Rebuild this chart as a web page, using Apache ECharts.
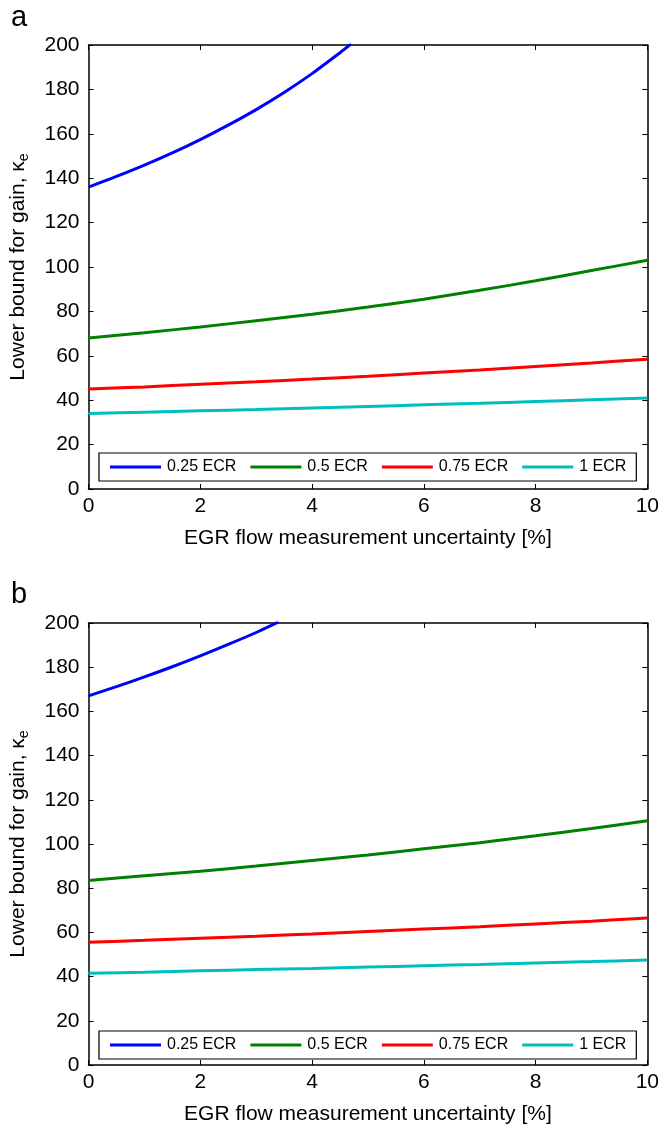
<!DOCTYPE html>
<html>
<head>
<meta charset="utf-8">
<script src="https://cdn.jsdelivr.net/npm/echarts@6/dist/echarts.min.js"></script>
<style>
  html, body { margin: 0; padding: 0; background: #fff; }
  #main { width: 662px; height: 1126px; }
</style>
</head>
<body>
<div id="main"></div>
<script>
// 数据：x 为 EGR 测量不确定度 [%]
var xFull = [0, 1, 2, 3, 4, 5, 6, 7, 8, 9, 10];

// panel a
var xBlueA = [0, 0.5, 1, 1.5, 2, 2.5, 3, 3.5, 4, 4.5, 4.7];
var blueA  = [136, 140.8, 145.9, 151.4, 157.4, 163.9, 170.9, 178.6, 187.1, 196.5, 200.5];
var greenA = [68, 70.4, 73, 75.8, 78.7, 82, 85.5, 89.5, 93.8, 98.4, 103];
var redA   = [45, 46, 47.2, 48.3, 49.5, 50.8, 52.2, 53.6, 55.2, 56.8, 58.5];
var cyanA  = [34, 34.6, 35.2, 35.8, 36.5, 37.2, 37.9, 38.6, 39.4, 40.2, 41];

// panel b
var xBlueB = [0, 0.5, 1, 1.5, 2, 2.5, 3, 3.4];
var blueB  = [167, 171.2, 175.6, 180.2, 185.1, 190.3, 195.7, 200.5];
var greenB = [83.5, 85.6, 87.7, 90, 92.5, 95, 97.8, 100.6, 103.7, 107, 110.5];
var redB   = [55.5, 56.4, 57.4, 58.3, 59.3, 60.4, 61.5, 62.6, 63.8, 65.1, 66.5];
var cyanB  = [41.5, 42, 42.6, 43.2, 43.7, 44.3, 44.9, 45.5, 46.2, 46.8, 47.5];

var names = ['0.25 ECR', '0.5 ECR', '0.75 ECR', '1 ECR'];
var colors = ['#0000ff', '#008000', '#ff0000', '#00bfbf'];

var font = 'Liberation Sans, Arial, sans-serif';

function pairs(xs, ys) {
    return xs.map(function (x, i) { return [x, ys[i]]; });
}

var myChart = echarts.init(document.getElementById('main'));

var grids = [
    { left: 87, right: 12, top: 45, height: 444 },
    { left: 87, right: 12, top: 623, height: 444 }
];

var xAxes = [], yAxes = [], series = [];
[0, 1].forEach(function (g) {
    // 下/上 x 轴
    xAxes.push({
        gridIndex: g, type: 'value', min: 0, max: 10, interval: 2,
        name: 'EGR flow measurement uncertainty [%]',
        nameLocation: 'middle', nameGap: 39,
        nameTextStyle: { fontFamily: font, fontSize: 21, color: '#000' },
        axisLine: { lineStyle: { color: '#000', width: 1.5 } },
        axisTick: { inside: true, length: 5, lineStyle: { color: '#000' } },
        axisLabel: { fontFamily: font, fontSize: 21, color: '#000', margin: 7 },
        splitLine: { show: false }
    });
    xAxes.push({
        gridIndex: g, type: 'value', min: 0, max: 10, interval: 2, position: 'top',
        axisLine: { onZero: false, lineStyle: { color: '#000', width: 1.5 } },
        axisTick: { inside: true, length: 5, lineStyle: { color: '#000' } },
        axisLabel: { show: false },
        splitLine: { show: false }
    });
    // 左/右 y 轴
    yAxes.push({
        gridIndex: g, type: 'value', min: 0, max: 200, interval: 20,
        name: 'Lower bound for gain, κ{sub|e}',
        nameLocation: 'middle', nameGap: 57, nameRotate: 90,
        nameTextStyle: {
            fontFamily: font, fontSize: 21, color: '#000',
            rich: { sub: { fontFamily: font, fontSize: 14, color: '#000', verticalAlign: 'bottom', padding: [12, 0, 0, 0] } }
        },
        axisLine: { lineStyle: { color: '#000', width: 1.5 } },
        axisTick: { inside: true, length: 5, lineStyle: { color: '#000' } },
        axisLabel: { fontFamily: font, fontSize: 21, color: '#000', margin: 9 },
        splitLine: { show: false }
    });
    yAxes.push({
        gridIndex: g, type: 'value', min: 0, max: 200, interval: 20, position: 'right',
        axisLine: { onZero: false, lineStyle: { color: '#000', width: 1.5 } },
        axisTick: { inside: true, length: 5, lineStyle: { color: '#000' } },
        axisLabel: { show: false },
        splitLine: { show: false }
    });
});

var dataSets = [
    [pairs(xBlueA, blueA), pairs(xFull, greenA), pairs(xFull, redA), pairs(xFull, cyanA)],
    [pairs(xBlueB, blueB), pairs(xFull, greenB), pairs(xFull, redB), pairs(xFull, cyanB)]
];

[0, 1].forEach(function (g) {
    names.forEach(function (n, i) {
        series.push({
            name: n, type: 'line',
            xAxisIndex: g * 2, yAxisIndex: g * 2,
            data: dataSets[g][i],
            smooth: 0.3, symbol: 'none',
            lineStyle: { color: colors[i], width: 3 },
            itemStyle: { color: colors[i] },
            clip: true
        });
    });
});

var legendBase = {
    data: names,
    left: 99,
    itemWidth: 51, itemHeight: 3, itemGap: 14,
    icon: 'rect',
    borderColor: '#000', borderWidth: 1.2,
    padding: [6, 10, 6, 11],
    backgroundColor: '#fff',
    textStyle: { fontFamily: font, fontSize: 16, color: '#000', padding: [0, 0, 0, 1] }
};

var option = {
    animation: false,
    backgroundColor: '#fff',
    title: [
        { text: 'a', left: 11, top: 3, padding: 0, textStyle: { fontFamily: font, fontSize: 29, fontWeight: 'normal', color: '#000' } },
        { text: 'b', left: 11, top: 580, padding: 0, textStyle: { fontFamily: font, fontSize: 29, fontWeight: 'normal', color: '#000' } }
    ],
    grid: grids,
    xAxis: xAxes,
    yAxis: yAxes,
    legend: [
        Object.assign({}, legendBase, { top: 453 }),
        Object.assign({}, legendBase, { top: 1031 })
    ],
    series: series
};

myChart.setOption(option);
window.onresize = myChart.resize;
</script>
</body>
</html>
